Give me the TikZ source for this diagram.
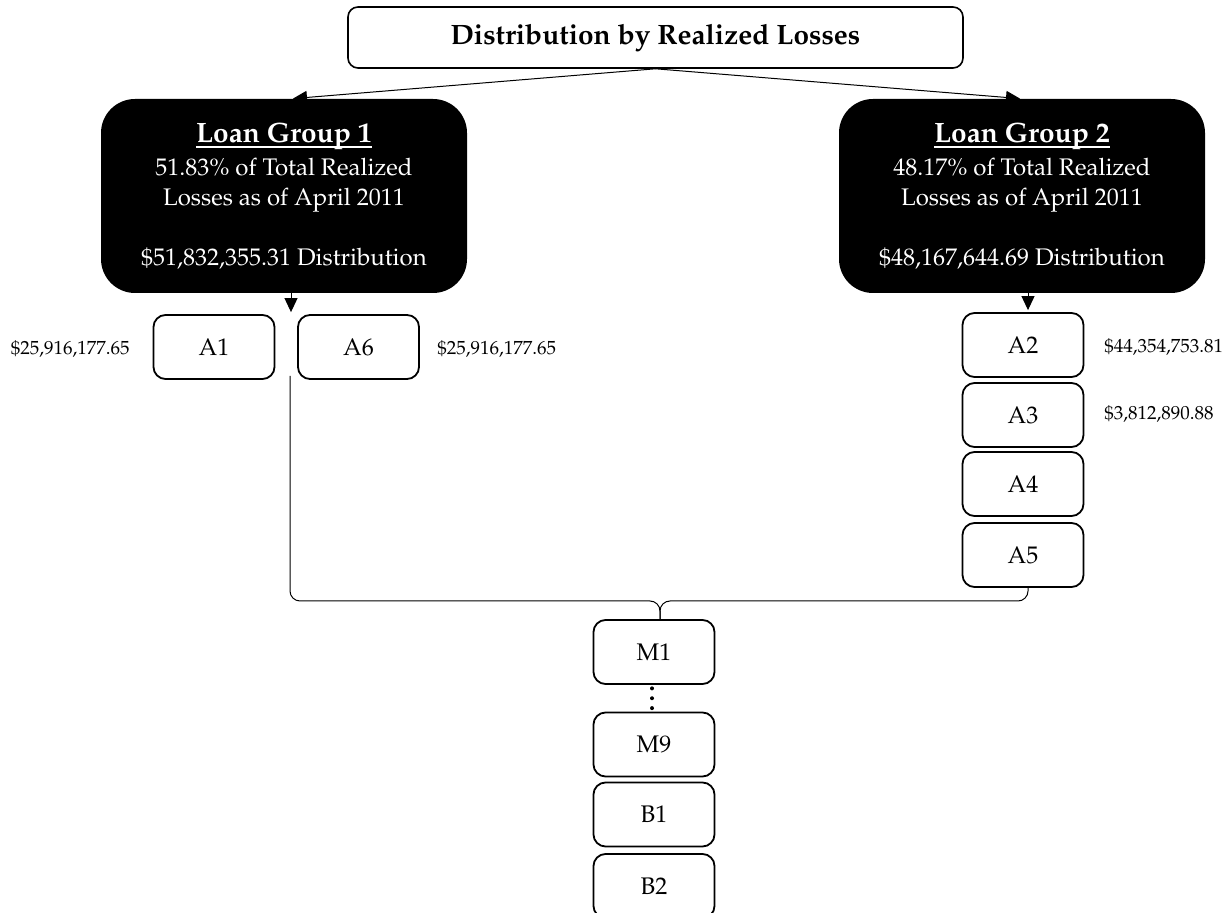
\documentclass[tikz,border=0pt]{standalone}
\usepackage[T1]{fontenc}
\usepackage{mathpazo}
\usetikzlibrary{arrows.meta,calc}
\newcommand\thickul[1]{{\setbox0\hbox{#1}\rlap{\rule[-2.6pt]{\wd0}{0.9pt}}\box0}}
\begin{document}
\begin{tikzpicture}[x=0.5pt,y=-0.5pt,
  sbox/.style={draw,line width=0.9pt,rounded corners=6pt,minimum width=60.5pt,minimum height=32pt,inner sep=0pt,font=\fontsize{12}{14}\selectfont},
  gbox/.style={fill=black,text=white,rounded corners=17pt,minimum width=183pt,minimum height=97pt,align=center,inner sep=0pt,font=\fontsize{12}{15}\selectfont},
  tbox/.style={draw,line width=0.8pt,rounded corners=5pt,minimum width=307.5pt,minimum height=30.5pt,inner sep=0pt,font=\bfseries\fontsize{14}{17}\selectfont},
  lbl/.style={font=\fontsize{9.5}{11}\selectfont,inner sep=0pt},
  arr/.style={line width=0.5pt,-{Triangle[length=7pt,width=6.5pt]}},
  conn/.style={line width=0.5pt,rounded corners=5pt}]
\useasboundingbox (0,0) rectangle (1226,913);

\node[tbox] (title) at (655.5,37.5) {Distribution by Realized Losses};

\node[gbox] (g1) at (284,196) {{\bfseries\fontsize{14}{17}\selectfont\thickul{Loan Group 1}}\\[1.5pt] 51.83\% of Total Realized\\ Losses as of April 2011\\[15pt] \$51,832,355.31 Distribution};
\node[gbox] (g2) at (1022,196) {{\bfseries\fontsize{14}{17}\selectfont\thickul{Loan Group 2}}\\[1.5pt] 48.17\% of Total Realized\\ Losses as of April 2011\\[15pt] \$48,167,644.69 Distribution};

\node[sbox] (A1) at (214,347) {A1};
\node[sbox] (A6) at (358.5,347) {A6};
\node[sbox] (A2) at (1023,345) {A2};
\node[sbox] (A3) at (1023,415) {A3};
\node[sbox] (A4) at (1023,484) {A4};
\node[sbox] (A5) at (1023,555) {A5};
\node[sbox] (M1) at (654,652) {M1};
\node[sbox] (M9) at (654,744.5) {M9};
\node[sbox] (B1) at (654,814.5) {B1};
\node[sbox] (B2) at (654,886) {B2};

\node[lbl,anchor=east] (lA1) at (130,349) {\$25,916,177.65};
\node[lbl,anchor=west] (lA6) at (437,349) {\$25,916,177.65};
\node[lbl,anchor=west] (lA2) at (1104,347) {\$44,354,753.81};
\node[lbl,anchor=west] (lA3) at (1104,414) {\$3,812,890.88};

\draw[arr] (title.south) -- ([xshift=4.5pt]g1.north);
\draw[arr] (title.south) -- ([xshift=-1pt]g2.north);
\draw[arr,shorten >=1pt] ([xshift=3.5pt]g1.south) -- ([xshift=3.5pt]g1.south |- A1.north);
\draw[arr,shorten >=1pt] ([xshift=3pt]g2.south) -- ([xshift=3pt]g2.south |- A2.north);

\coordinate (split) at (290,376);
\coordinate (hl) at (660,601);
\coordinate (join) at ($(M1.north)+(3pt,0)$);
\draw[conn] (split) |- (hl) -- (join);
\draw[conn] ([xshift=2.5pt]A5.south) |- (hl) -- (join);

\foreach \p in {0.13,0.5,0.87}
  \fill ($(M1.south)!\p!(M9.north)+(-1pt,0)$) circle (1pt);
\end{tikzpicture}
\end{document}
